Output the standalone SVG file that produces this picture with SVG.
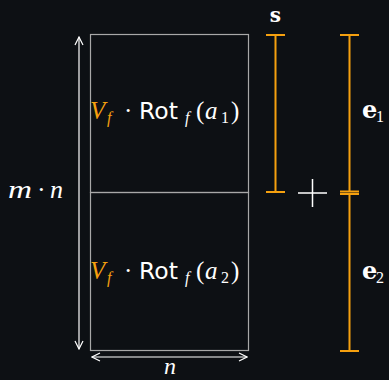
<svg xmlns="http://www.w3.org/2000/svg" width="389" height="380" viewBox="0 0 389 380">
<style>
.box{fill:none;stroke:#a8a8a8;stroke-width:1.2}
.dim{fill:none;stroke:#ffffff;stroke-width:1.2}
.bar{fill:none;stroke:#f5a00f;stroke-width:2}
.it{font-family:"Liberation Serif","DejaVu Serif",serif;font-style:italic}
.sf{font-family:"DejaVu Sans","Liberation Sans",sans-serif}
.bf{font-family:"DejaVu Serif","Liberation Serif",serif;font-weight:bold}
.rm{font-family:"Liberation Serif","DejaVu Serif",serif}
text{fill:#ffffff}
.or{fill:#f5a00f}
.sub{font-size:16px}
</style>
<defs>
<marker id="ah" viewBox="0 0 10 10" refX="9" refY="5" markerWidth="10" markerHeight="10" markerUnits="userSpaceOnUse" orient="auto-start-reverse">
<path d="M1,1 L9,5 L1,9" fill="none" stroke="#ffffff" stroke-width="1.2"/>
</marker>
</defs>
<rect width="389" height="380" fill="#0d1014"/>
<g id="block1">
<rect class="box" x="90.5" y="34.5" width="158" height="158"/>
<text font-size="25" y="119"><tspan class="it or" x="90">V</tspan><tspan class="it or sub" x="107" y="123">f</tspan><tspan class="rm" x="124" y="119">·</tspan><tspan class="sf" x="139" font-size="23.5">Rot</tspan><tspan class="it sub" x="185" y="123">f</tspan><tspan class="rm" x="196" y="119">(</tspan><tspan class="it" x="205">a</tspan><tspan class="rm sub" x="221" y="123">1</tspan><tspan class="rm" x="231" y="119">)</tspan></text>
</g>
<g id="block2">
<rect class="box" x="90.5" y="192.5" width="158" height="158"/>
<text font-size="25" y="279"><tspan class="it or" x="90">V</tspan><tspan class="it or sub" x="107" y="283">f</tspan><tspan class="rm" x="124" y="279">·</tspan><tspan class="sf" x="139" font-size="23.5">Rot</tspan><tspan class="it sub" x="185" y="283">f</tspan><tspan class="rm" x="196" y="279">(</tspan><tspan class="it" x="205">a</tspan><tspan class="rm sub" x="221" y="283">2</tspan><tspan class="rm" x="231" y="279">)</tspan></text>
</g>
<g id="s">
<path class="bar" d="M275.5,35V192M266,35H285M266,192H285"/>
<text class="bf" x="275.5" y="22" font-size="20" text-anchor="middle">s</text>
</g>
<g id="e1">
<path class="bar" d="M349.5,35V191.5M340,35H359M340,191.5H359"/>
<text y="118" font-size="24"><tspan class="bf" x="362">e</tspan><tspan class="rm sub" x="376" y="122">1</tspan></text>
</g>
<g id="e2">
<path class="bar" d="M349.5,194V351M340,194H359M340,351H359"/>
<text y="279" font-size="24"><tspan class="bf" x="362">e</tspan><tspan class="rm sub" x="376" y="283">2</tspan></text>
</g>
<g id="plus">
<path d="M298,193H327M312.5,179V207" stroke="#ffffff" stroke-width="1.5" fill="none"/>
</g>
<g id="connectors">
<path class="dim" d="M79,37V349" marker-start="url(#ah)" marker-end="url(#ah)"/>
<path class="dim" d="M92,357H247" marker-start="url(#ah)" marker-end="url(#ah)"/>
</g>
<g id="labels">
<text y="198" font-size="26"><tspan class="it" x="8" textLength="24" lengthAdjust="spacingAndGlyphs">m</tspan><tspan class="rm" x="37">·</tspan><tspan class="it" x="50">n</tspan></text>
<text class="it" x="170" y="374" font-size="24" text-anchor="middle">n</text>
</g>
</svg>
